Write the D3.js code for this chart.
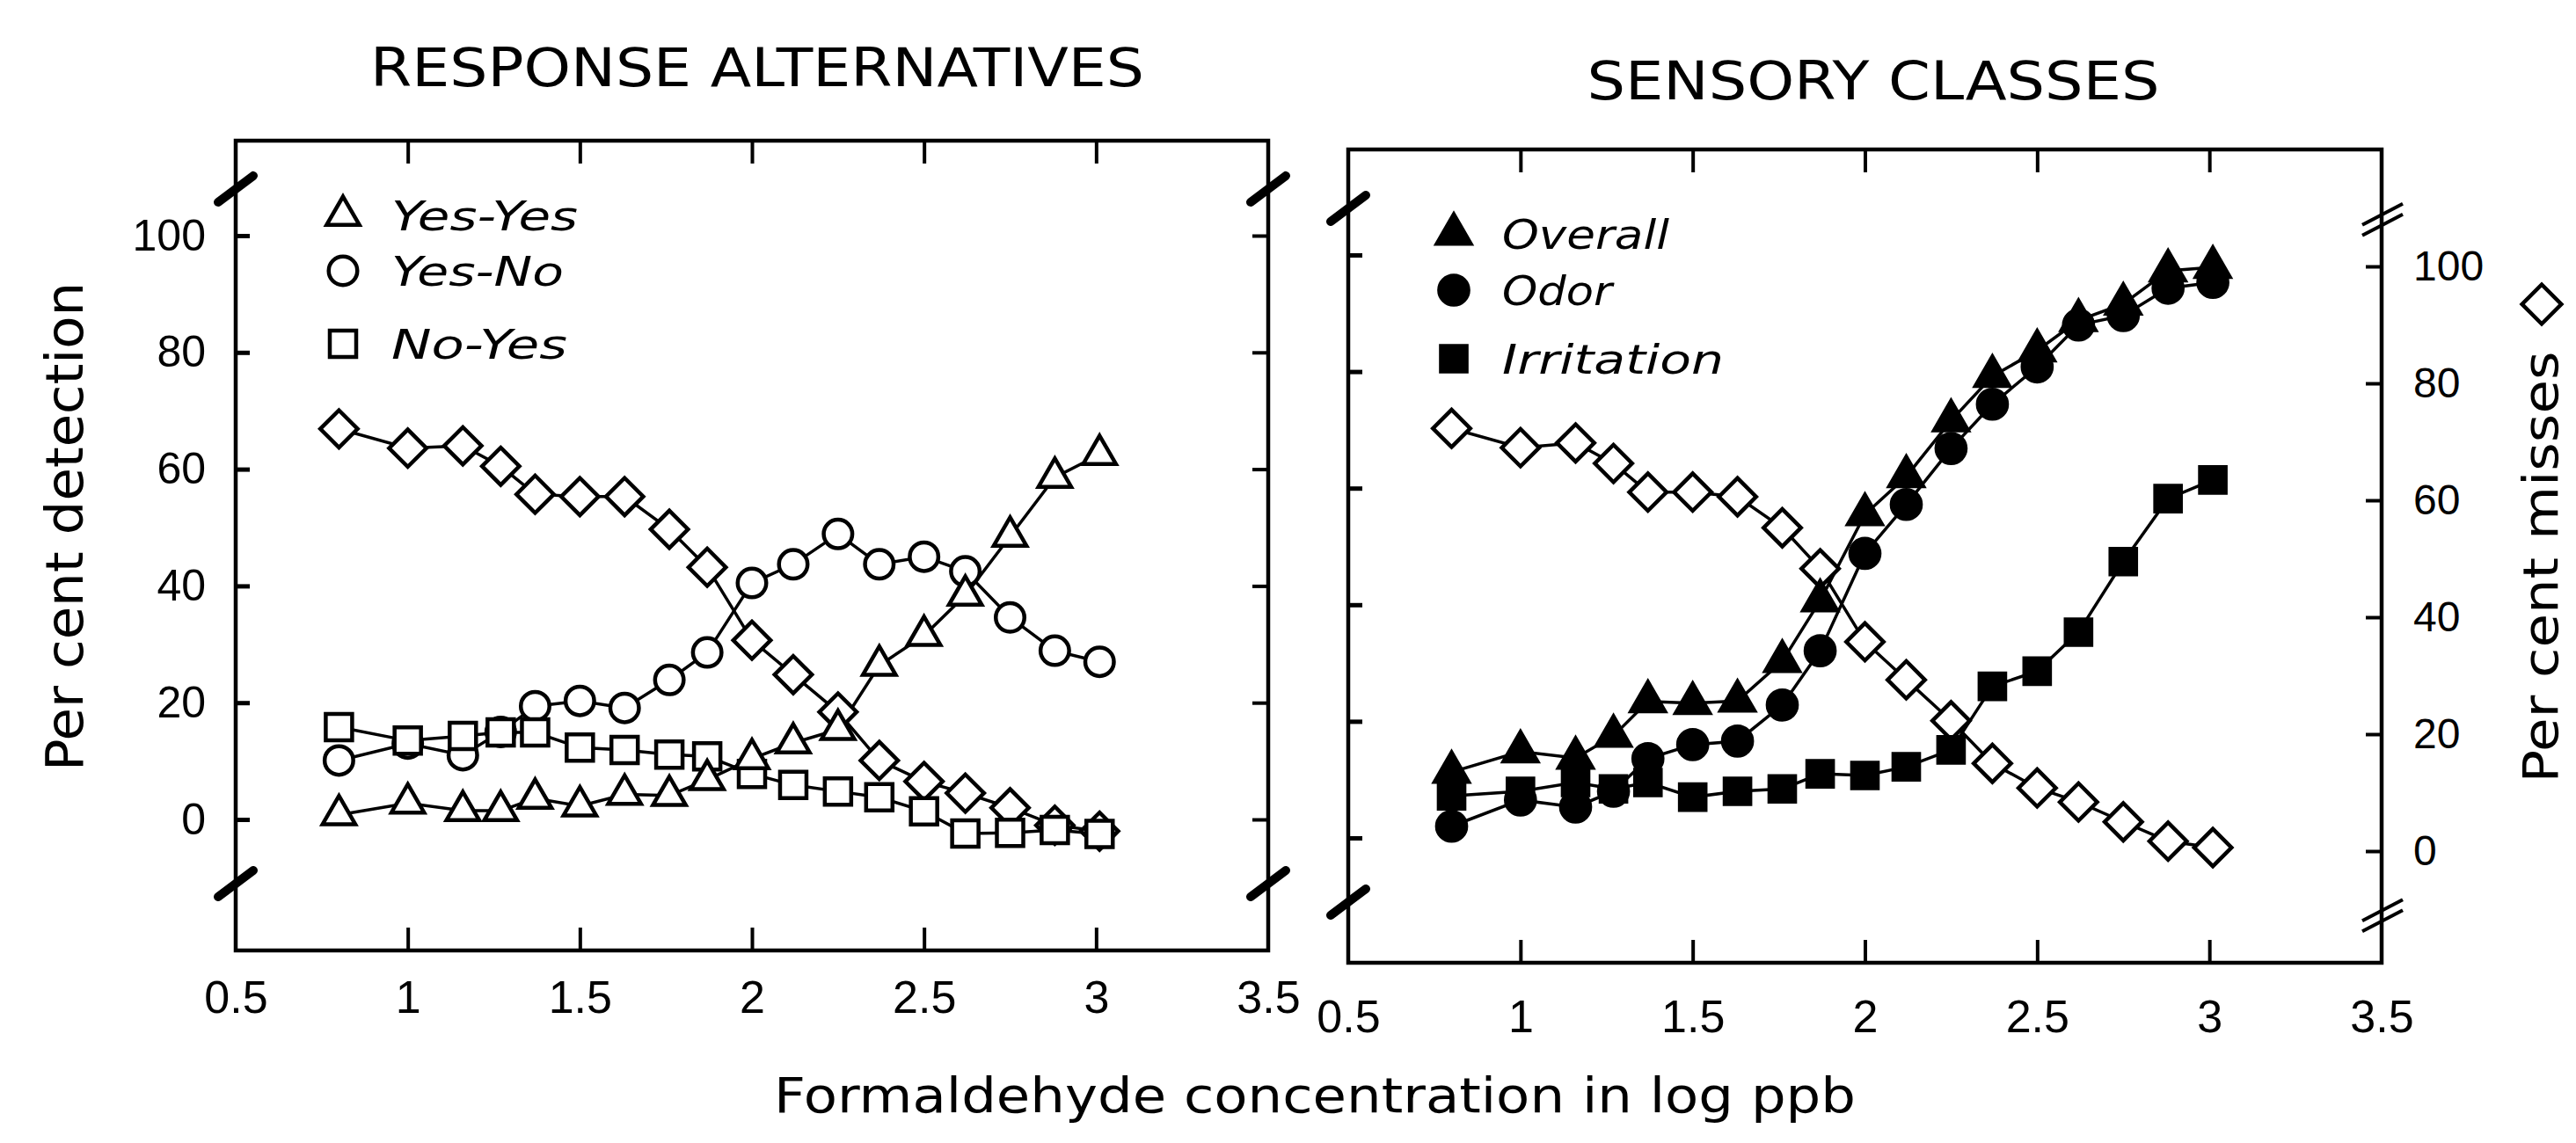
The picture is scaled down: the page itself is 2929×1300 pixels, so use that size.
<!DOCTYPE html>
<html><head><meta charset="utf-8">
<script src="https://cdn.jsdelivr.net/npm/d3@7"></script>
<style>html,body{margin:0;padding:0;background:#fff;} svg{display:block;}</style>
</head><body>
<svg id="chart" width="2929" height="1300"></svg>
<script>
// ---------------- DATA ----------------
const concentration = [0.80, 1.00, 1.16, 1.27, 1.37, 1.50, 1.63, 1.76, 1.87, 2.00, 2.12, 2.25, 2.37, 2.50, 2.62, 2.75, 2.88, 3.01];

// Left panel: response alternatives (per cent detection), diamonds = per cent misses
const missesLeft = [66.9, 63.6, 64.0, 60.5, 55.7, 55.3, 55.3, 49.7, 43.2, 30.7, 24.8, 18.4, 10.1, 6.5, 4.5, 2.0, -1.0, -2.0];
const yesYes     = [0.8, 2.8, 1.5, 1.5, 3.6, 2.3, 4.3, 4.1, 6.8, 10.4, 13.1, 15.4, 26.4, 31.5, 38.4, 48.5, 58.6, 62.5];
const yesNo      = [10.1, 13.0, 11.0, 15.0, 19.4, 20.3, 19.1, 23.9, 28.6, 40.5, 43.7, 48.9, 43.7, 45.0, 42.5, 34.6, 28.9, 27.0];
const noYes      = [15.8, 13.5, 14.3, 14.9, 14.9, 12.3, 11.9, 11.1, 10.8, 7.8, 5.9, 4.8, 3.8, 1.4, -2.4, -2.3, -1.8, -2.5];

// Right panel: sensory classes (per cent detection), diamonds = per cent misses (right axis)
const missesRight = [72.3, 69.0, 69.8, 66.3, 61.4, 61.4, 60.6, 55.3, 48.3, 35.8, 29.3, 22.3, 15.0, 10.8, 8.4, 5.0, 1.7, 0.6];
const overall     = [11.3, 14.8, 13.7, 17.5, 23.4, 23.1, 23.5, 30.3, 40.7, 55.5, 62.0, 71.6, 79.2, 83.6, 88.8, 91.6, 97.3, 97.9];
const odor        = [2.0, 6.5, 5.3, 8.0, 13.6, 16.0, 16.6, 22.8, 32.1, 48.8, 57.2, 66.8, 74.4, 80.8, 88.0, 89.6, 94.3, 95.3];
const irritation  = [7.2, 8.0, 9.5, 8.4, 9.5, 7.0, 8.0, 8.4, 11.0, 10.7, 12.2, 15.1, 26.0, 28.6, 35.3, 47.4, 58.2, 61.4];

const xTickValues = [0.5, 1, 1.5, 2, 2.5, 3, 3.5];
const xTickLabels = ["0.5", "1", "1.5", "2", "2.5", "3", "3.5"];
const yTickValues = [0, 20, 40, 60, 80, 100];
const breakValues = [108, -11];

const leftTitle = "RESPONSE ALTERNATIVES";
const rightTitle = "SENSORY CLASSES";
const leftLegend = ["Yes-Yes", "Yes-No", "No-Yes"];
const rightLegend = ["Overall", "Odor", "Irritation"];
const yLabelLeft = "Per cent detection";
const yLabelRight = "Per cent misses";
const xLabel = "Formaldehyde concentration in log ppb";

// ---------------- DRAWING ----------------
const svg = d3.select('#chart');
const FONT = "'DejaVu Sans', sans-serif";
const TICKFONT = "'Liberation Sans', Arial, sans-serif";

const symSquare = d3.symbol().type(d3.symbolSquare).size(900)();
const symCircle = d3.symbol().type(d3.symbolCircle).size(830)();
const symTriangle = d3.symbol().type(d3.symbolTriangle).size(600)();
const symSquareF = d3.symbol().type(d3.symbolSquare).size(1000)();
const symCircleF = d3.symbol().type(d3.symbolCircle).size(1000)();
const symTriangleF = d3.symbol().type(d3.symbolTriangle).size(800)();

const shapes = {
  diamond: {d: symSquare, rot: 45},
  circle: {d: symCircle, rot: 0},
  square: {d: symSquare, rot: 0},
  triangle: {d: symTriangle, rot: 0},
  circleF: {d: symCircleF, rot: 0},
  squareF: {d: symSquareF, rot: 0},
  triangleF: {d: symTriangleF, rot: 0}
};

function panel(cfg) {
  const g = svg.append('g');
  const x = d3.scaleLinear().domain([0.5, 3.5]).range([cfg.x0, cfg.x1]);
  const y = d3.scaleLinear().domain([0, 100]).range(cfg.yRange);
  const y2 = cfg.y2Range ? d3.scaleLinear().domain([0, 100]).range(cfg.y2Range) : y;

  // frame
  g.append('rect').attr('x', cfg.x0).attr('y', cfg.top)
    .attr('width', cfg.x1 - cfg.x0).attr('height', cfg.bottom - cfg.top)
    .attr('fill', 'none').attr('stroke', '#000').attr('stroke-width', 4.5);

  // bottom axis with labels
  const bx = g.append('g').attr('transform', `translate(0,${cfg.bottom})`)
    .call(d3.axisBottom(x).tickValues(xTickValues).tickSizeInner(-26).tickSizeOuter(0)
      .tickPadding(cfg.xPad).tickFormat((d, i) => xTickLabels[i]));
  bx.select('.domain').remove();
  bx.selectAll('.tick line').attr('stroke-width', 4)
    .filter(d => d === 0.5 || d === 3.5).remove();
  bx.selectAll('text').attr('font-family', TICKFONT).attr('font-size', 52).attr('fill', '#000');

  // top axis (ticks only)
  const tx = g.append('g').attr('transform', `translate(0,${cfg.top})`)
    .call(d3.axisTop(x).tickValues(xTickValues.slice(1, -1)).tickSizeInner(-26).tickSizeOuter(0).tickFormat(''));
  tx.select('.domain').remove();
  tx.selectAll('.tick line').attr('stroke-width', 4);

  // left axis
  const ly = g.append('g').attr('transform', `translate(${cfg.x0},0)`)
    .call(d3.axisLeft(y).tickValues(yTickValues).tickSizeInner(-16).tickSizeOuter(0)
      .tickPadding(34).tickFormat(cfg.leftLabels ? d3.format('d') : ''));
  ly.select('.domain').remove();
  ly.selectAll('.tick line').attr('stroke-width', 5);
  ly.selectAll('text').attr('font-family', TICKFONT).attr('font-size', 50).attr('fill', '#000');

  // right axis
  const ry = g.append('g').attr('transform', `translate(${cfg.x1},0)`)
    .call(d3.axisRight(y2).tickValues(yTickValues).tickSizeInner(-18).tickSizeOuter(0)
      .tickPadding(36).tickFormat(cfg.rightLabels ? d3.format('d') : ''));
  ry.select('.domain').remove();
  ry.selectAll('.tick line').attr('stroke-width', 4);
  ry.selectAll('text').attr('font-family', TICKFONT).attr('font-size', 48).attr('fill', '#000');

  // axis break marks
  breakValues.forEach(v => {
    const yy = y(v);
    g.append('line').attr('x1', cfg.x0 - 20).attr('y1', yy + 15).attr('x2', cfg.x0 + 20).attr('y2', yy - 15)
      .attr('stroke', '#000').attr('stroke-width', 10).attr('stroke-linecap', 'round');
    const yr = y2(v);
    if (cfg.doubleBreak) {
      [-6, 6].forEach(o => g.append('line').attr('x1', cfg.x1 - 22).attr('y1', yr + 12 + o)
        .attr('x2', cfg.x1 + 24).attr('y2', yr - 12 + o)
        .attr('stroke', '#000').attr('stroke-width', 4));
    } else {
      g.append('line').attr('x1', cfg.x1 - 20).attr('y1', yr + 15).attr('x2', cfg.x1 + 20).attr('y2', yr - 15)
        .attr('stroke', '#000').attr('stroke-width', 10).attr('stroke-linecap', 'round');
    }
  });

  // series: lines first, then markers
  const line = d3.line();
  cfg.series.forEach(s => {
    const sy = s.right ? y2 : y;
    g.append('path').attr('d', line(concentration.map((c, i) => [x(c), sy(s.values[i])])))
      .attr('fill', 'none').attr('stroke', '#000').attr('stroke-width', 3.5);
  });
  cfg.series.forEach(s => {
    const sy = s.right ? y2 : y;
    const sh = shapes[s.shape];
    g.append('g').selectAll('path').data(s.values).join('path')
      .attr('transform', (v, i) => `translate(${x(concentration[i])},${sy(v)}) rotate(${sh.rot})`)
      .attr('d', sh.d)
      .attr('fill', s.filled ? '#000' : '#fff')
      .attr('stroke', '#000').attr('stroke-width', s.filled ? 2 : 4.5);
  });

  // legend
  cfg.legend.forEach((lab, i) => {
    const sh = shapes[cfg.legendShapes[i]];
    const filled = cfg.legendFilled;
    g.append('path').attr('transform', `translate(${cfg.legX},${cfg.legY[i]}) rotate(${sh.rot})`)
      .attr('d', sh.d).attr('fill', filled ? '#000' : '#fff')
      .attr('stroke', '#000').attr('stroke-width', filled ? 2 : 4.5);
    g.append('text').attr('x', cfg.legX + 55).attr('y', cfg.legY[i] + 17)
      .attr('font-family', FONT).attr('font-style', 'italic').attr('font-size', 46)
      .attr('textLength', cfg.legLen[i]).attr('lengthAdjust', 'spacingAndGlyphs')
      .text(lab);
  });

  // title
  g.append('text').attr('x', cfg.titleX).attr('y', cfg.titleY)
    .attr('font-family', FONT).attr('font-size', 60).attr('text-anchor', 'middle')
    .attr('textLength', cfg.titleLen).attr('lengthAdjust', 'spacingAndGlyphs')
    .text(cfg.title);
  return {x, y, y2};
}

panel({
  x0: 268, x1: 1442, top: 160, bottom: 1081, yRange: [932, 268],
  xPad: 34, leftLabels: true, rightLabels: false, doubleBreak: false,
  series: [
    {values: missesLeft, shape: 'diamond'},
    {values: yesNo, shape: 'circle'},
    {values: noYes, shape: 'square'},
    {values: yesYes, shape: 'triangle'}
  ],
  legend: leftLegend, legendShapes: ['triangle', 'circle', 'square'], legendFilled: false,
  legX: 390, legY: [245, 308, 391], legLen: [212, 196, 200],
  title: leftTitle, titleX: 861, titleY: 98, titleLen: 880
});

panel({
  x0: 1533, x1: 2708, top: 170, bottom: 1095, yRange: [953, 290], y2Range: [968, 303],
  xPad: 42, leftLabels: false, rightLabels: true, doubleBreak: true,
  series: [
    {values: missesRight, shape: 'diamond', right: true},
    {values: irritation, shape: 'squareF', filled: true},
    {values: odor, shape: 'circleF', filled: true},
    {values: overall, shape: 'triangleF', filled: true}
  ],
  legend: rightLegend, legendShapes: ['triangleF', 'circleF', 'squareF'], legendFilled: true,
  legX: 1653, legY: [266, 330, 408], legLen: [190, 125, 252],
  title: rightTitle, titleX: 2130, titleY: 113, titleLen: 651
});

// axis titles
svg.append('text').attr('transform', 'translate(94,599) rotate(-90)')
  .attr('font-family', FONT).attr('font-size', 58).attr('text-anchor', 'middle')
  .attr('textLength', 556).attr('lengthAdjust', 'spacingAndGlyphs').text(yLabelLeft);

svg.append('text').attr('transform', 'translate(2908,645) rotate(-90)')
  .attr('font-family', FONT).attr('font-size', 56).attr('text-anchor', 'middle')
  .attr('textLength', 491).attr('lengthAdjust', 'spacingAndGlyphs').text(yLabelRight);
svg.append('path').attr('transform', 'translate(2890,346) rotate(45)')
  .attr('d', d3.symbol().type(d3.symbolSquare).size(1000)())
  .attr('fill', '#fff').attr('stroke', '#000').attr('stroke-width', 4.5);

svg.append('text').attr('x', 1495).attr('y', 1265)
  .attr('font-family', FONT).attr('font-size', 56).attr('text-anchor', 'middle')
  .attr('textLength', 1230).attr('lengthAdjust', 'spacingAndGlyphs').text(xLabel);
</script>
</body></html>
